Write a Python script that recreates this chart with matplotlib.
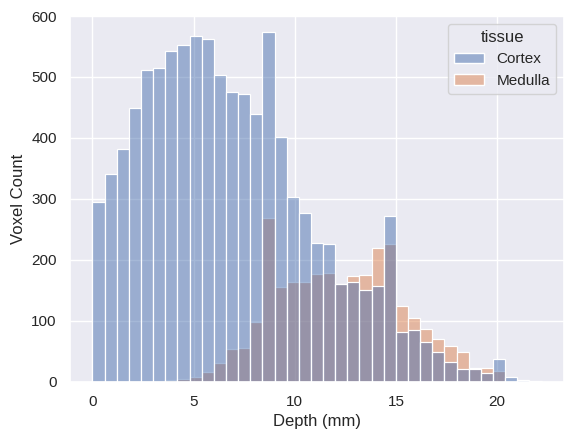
import numpy as np
import pandas as pd
import matplotlib
matplotlib.use("Agg")
import matplotlib.pyplot as plt
import seaborn as sns

bin_width = 0.6
n_bins = 37
cortex = [295, 341, 382, 449, 511, 514, 542, 552, 568, 563, 504, 475, 472, 440, 573,
          401, 303, 277, 228, 226, 160, 164, 150, 157, 272, 82, 85, 65, 49, 33, 21,
          21, 14, 38, 8, 3, 1]
medulla = [0, 0, 0, 0, 0, 0, 2, 5, 8, 16, 31, 54, 56, 98, 269, 155, 164, 164, 177,
           178, 161, 174, 175, 219, 226, 124, 105, 87, 70, 59, 49, 22, 23, 18, 0, 0, 0]
tissues = ["Cortex", "Medulla"]

edges = np.arange(n_bins + 1) * bin_width
centers = (edges[:-1] + edges[1:]) / 2

df = pd.DataFrame({
    "depth": np.concatenate([centers, centers]),
    "count": np.concatenate([cortex, medulla]).astype(float),
    "tissue": ["Cortex"] * n_bins + ["Medulla"] * n_bins,
})

sns.set_theme()
plt.rcParams['font.family'] = ['Liberation Sans', 'DejaVu Sans']
fig = plt.figure(figsize=(5.75, 4.41), dpi=100)
ax = fig.add_axes([0.1217, 0.1345, 0.9809 - 0.1217, 0.9637 - 0.1345])
sns.histplot(data=df, x="depth", weights="count", hue="tissue", hue_order=tissues,
             bins=n_bins, binrange=(0, n_bins * bin_width), ax=ax)
ax.set_ylim(0, 600)
ax.set_xlabel("Depth (mm)")
ax.set_ylabel("Voxel Count")
fig.savefig("out.png", dpi=100)
